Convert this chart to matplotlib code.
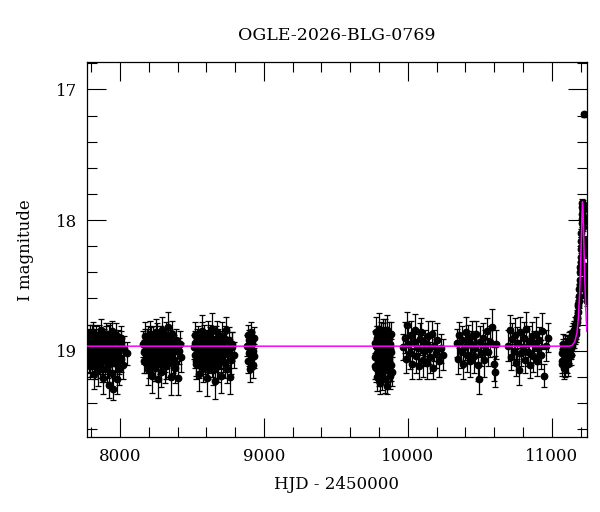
import matplotlib
matplotlib.use('Agg')
import matplotlib.pyplot as plt
from matplotlib.ticker import MultipleLocator
import numpy as np

# OGLE photometry, lists per observing season
s1_t = [7778, 7783, 7789, 7794, 7800, 7806, 7811, 7817, 7823, 7828, 7834, 7840, 7845, 7851, 7857,
        7862, 7868, 7874, 7879, 7885, 7891, 7896, 7902, 7908, 7913, 7919, 7925, 7930, 7936, 7942,
        7947, 7953, 7959, 7964, 7970, 7976, 7981, 7987, 7993, 7998, 8004, 8010, 8018, 8030, 8047]
s1_m = [18.93, 19.05, 18.88, 19.12, 18.97, 19.02, 18.86, 19.18, 18.95, 19.08, 18.91, 19.01, 19.15, 18.89, 18.99,
        19.10, 18.84, 19.04, 18.96, 19.21, 18.92, 19.06, 18.87, 19.00, 19.13, 18.94, 19.26, 18.90, 19.03, 19.17,
        18.85, 19.29, 18.98, 19.09, 18.88, 19.22, 19.01, 18.93, 19.14, 18.97, 19.06, 18.90, 19.11, 18.99, 19.02]
s1_e = [0.09, 0.11, 0.08, 0.10, 0.09, 0.12, 0.08, 0.11, 0.09, 0.10, 0.08, 0.09, 0.12, 0.09, 0.10,
        0.11, 0.08, 0.09, 0.10, 0.12, 0.09, 0.10, 0.08, 0.09, 0.11, 0.09, 0.10, 0.11, 0.09, 0.12,
        0.08, 0.09, 0.13, 0.10, 0.09, 0.11, 0.10, 0.09, 0.12, 0.08, 0.10, 0.09, 0.11, 0.10, 0.09]
s1x_t = [7781, 7787, 7792, 7798, 7803, 7809, 7815, 7820, 7826, 7832, 7837, 7843, 7849, 7855, 7860,
         7866, 7872, 7877, 7883, 7889, 7894, 7900, 7906, 7911, 7917, 7923, 7928, 7934, 7940, 7950,
         7961, 7972, 7984, 7995, 8007]
s1x_m = [19.00, 18.92, 19.07, 18.95, 19.10, 18.90, 19.03, 18.97, 19.12, 18.89, 19.05, 18.94, 19.01, 19.09, 18.91,
         18.98, 19.14, 18.93, 19.04, 18.96, 19.08, 18.90, 19.02, 18.99, 19.11, 18.88, 19.06, 18.95, 19.00, 19.03,
         18.92, 19.07, 18.97, 19.10, 18.94]
s1x_e = [0.08, 0.09, 0.10, 0.08, 0.09, 0.10, 0.08, 0.09, 0.10, 0.08, 0.09, 0.08, 0.10, 0.09, 0.08,
         0.09, 0.10, 0.08, 0.09, 0.08, 0.10, 0.09, 0.08, 0.09, 0.10, 0.08, 0.09, 0.08, 0.10, 0.09,
         0.08, 0.09, 0.10, 0.08, 0.09]

s2_t = [8163, 8169, 8175, 8181, 8188, 8194, 8200, 8206, 8213, 8219, 8225, 8231, 8238, 8244, 8250,
        8256, 8263, 8269, 8275, 8281, 8288, 8294, 8300, 8306, 8313, 8319, 8325, 8331, 8338, 8344,
        8350, 8356, 8363, 8369, 8375, 8381, 8394, 8405, 8416, 8427]
s2_m = [18.95, 19.08, 18.89, 19.02, 18.93, 19.14, 18.98, 18.87, 19.05, 18.91, 19.19, 19.00, 18.94, 19.11, 18.86,
        19.03, 19.22, 18.97, 19.07, 18.90, 19.16, 18.84, 19.01, 18.96, 19.12, 18.88, 19.04, 18.82, 18.99, 19.09,
        18.93, 19.20, 18.87, 19.06, 18.97, 19.13, 19.00, 19.21, 18.95, 19.05]
s2_e = [0.10, 0.09, 0.11, 0.08, 0.10, 0.12, 0.09, 0.10, 0.11, 0.09, 0.13, 0.10, 0.09, 0.12, 0.10,
        0.09, 0.14, 0.10, 0.11, 0.09, 0.12, 0.10, 0.09, 0.11, 0.13, 0.10, 0.09, 0.12, 0.10, 0.11,
        0.09, 0.14, 0.10, 0.11, 0.09, 0.12, 0.10, 0.13, 0.10, 0.11]
s2x_t = [8166, 8172, 8178, 8184, 8191, 8197, 8203, 8210, 8216, 8222, 8228, 8235, 8241, 8247, 8253,
         8260, 8266, 8272, 8278, 8285, 8291, 8297, 8303, 8310, 8316, 8322, 8334, 8347, 8359, 8372,
         8388, 8410]
s2x_m = [19.01, 18.93, 19.09, 18.97, 19.04, 18.90, 19.11, 18.95, 19.02, 19.07, 18.92, 18.99, 19.13, 18.94, 19.06,
         18.89, 19.03, 18.96, 19.10, 18.91, 19.00, 19.08, 18.94, 19.05, 18.98, 19.12, 18.90, 19.03, 18.95, 19.08,
         18.92, 19.00]
s2x_e = [0.09, 0.10, 0.08, 0.09, 0.11, 0.09, 0.10, 0.08, 0.09, 0.10, 0.11, 0.09, 0.10, 0.08, 0.09,
         0.10, 0.09, 0.11, 0.08, 0.10, 0.09, 0.10, 0.08, 0.11, 0.09, 0.10, 0.09, 0.08, 0.10, 0.11,
         0.09, 0.10]

s3_t = [8515, 8521, 8528, 8534, 8541, 8547, 8554, 8560, 8567, 8573, 8580, 8586, 8593, 8599, 8606,
        8612, 8619, 8625, 8632, 8638, 8645, 8651, 8658, 8664, 8671, 8677, 8684, 8690, 8697, 8703,
        8710, 8716, 8723, 8729, 8736, 8742, 8749, 8755, 8762, 8770, 8780, 8791]
s3_m = [18.97, 18.88, 19.10, 19.02, 18.92, 19.18, 18.95, 19.06, 18.85, 19.00, 19.13, 18.90, 19.04, 18.96, 19.21,
        18.87, 19.08, 18.93, 19.01, 18.83, 19.15, 18.98, 19.23, 18.91, 19.05, 18.86, 19.12, 18.99, 18.94, 19.19,
        18.89, 19.03, 18.96, 19.09, 18.84, 19.14, 19.00, 18.92, 19.20, 19.07, 18.95, 19.03]
s3_e = [0.09, 0.10, 0.12, 0.09, 0.11, 0.13, 0.09, 0.10, 0.12, 0.09, 0.11, 0.10, 0.09, 0.12, 0.14,
        0.10, 0.09, 0.11, 0.10, 0.12, 0.11, 0.09, 0.14, 0.10, 0.11, 0.09, 0.12, 0.10, 0.09, 0.13,
        0.11, 0.10, 0.09, 0.12, 0.10, 0.11, 0.09, 0.10, 0.13, 0.11, 0.09, 0.10]
s3x_t = [8518, 8524, 8531, 8537, 8544, 8550, 8557, 8563, 8570, 8576, 8583, 8589, 8596, 8602, 8609,
         8615, 8622, 8628, 8635, 8641, 8648, 8654, 8661, 8667, 8674, 8680, 8693, 8706, 8719, 8732,
         8752, 8775]
s3x_m = [19.03, 18.94, 19.08, 18.91, 19.00, 19.11, 18.96, 19.05, 18.89, 19.02, 18.97, 19.09, 18.93, 19.06, 18.99,
         19.13, 18.90, 19.04, 18.95, 19.10, 18.92, 19.01, 19.07, 18.96, 19.12, 18.94, 19.04, 18.98, 19.08, 18.91,
         19.02, 18.97]
s3x_e = [0.10, 0.09, 0.11, 0.08, 0.09, 0.10, 0.09, 0.08, 0.11, 0.09, 0.10, 0.09, 0.08, 0.10, 0.11,
         0.09, 0.10, 0.08, 0.09, 0.10, 0.11, 0.09, 0.08, 0.10, 0.09, 0.11, 0.10, 0.09, 0.08, 0.10,
         0.09, 0.11]

s4_t = [8882, 8886, 8890, 8894, 8898, 8902, 8906, 8910, 8914, 8918, 8922, 8926, 8930, 8934]
s4_m = [18.96, 19.08, 18.88, 19.02, 18.92, 19.14, 18.98, 18.86, 19.05, 18.94, 19.11, 19.00, 18.90, 19.04]
s4_e = [0.08, 0.09, 0.08, 0.10, 0.08, 0.10, 0.09, 0.08, 0.09, 0.08, 0.10, 0.09, 0.08, 0.09]

s5_t = [9772, 9775, 9779, 9782, 9786, 9789, 9793, 9796, 9800, 9803, 9807, 9810, 9814, 9817, 9821,
        9824, 9828, 9831, 9835, 9838, 9842, 9845, 9849, 9852, 9856, 9859, 9863, 9866, 9870, 9873,
        9877, 9880, 9883, 9885, 9887]
s5_m = [18.94, 19.12, 18.86, 19.03, 19.20, 18.91, 19.07, 18.83, 19.15, 18.98, 19.25, 18.89, 19.05, 18.95, 19.18,
        18.85, 19.10, 19.00, 18.92, 19.22, 18.88, 19.08, 18.96, 19.27, 18.84, 19.02, 19.14, 18.90, 19.06, 18.97,
        19.19, 18.87, 19.11, 19.01, 19.16]
s5_e = [0.09, 0.10, 0.12, 0.09, 0.11, 0.10, 0.09, 0.12, 0.10, 0.09, 0.08, 0.11, 0.09, 0.10, 0.12,
        0.09, 0.10, 0.11, 0.09, 0.10, 0.12, 0.09, 0.10, 0.06, 0.11, 0.09, 0.10, 0.12, 0.09, 0.11,
        0.10, 0.09, 0.12, 0.10, 0.11]
s5x_t = [9773, 9777, 9780, 9784, 9788, 9791, 9795, 9798, 9802, 9805, 9809, 9812, 9816, 9819, 9823,
         9826, 9830, 9833, 9837, 9840, 9844, 9851, 9858, 9865, 9875]
s5x_m = [19.05, 18.96, 19.13, 18.90, 19.02, 19.09, 18.94, 19.17, 18.99, 19.06, 18.92, 19.11, 19.00, 18.95, 19.08,
         18.88, 19.14, 19.03, 18.97, 19.10, 18.93, 19.05, 18.99, 19.12, 18.95]
s5x_e = [0.09, 0.10, 0.11, 0.09, 0.10, 0.11, 0.09, 0.10, 0.12, 0.09, 0.10, 0.11, 0.09, 0.10, 0.11,
         0.09, 0.10, 0.12, 0.09, 0.10, 0.11, 0.09, 0.10, 0.11, 0.09]

s6_t = [9968, 9977, 9986, 9995, 10004, 10013, 10022, 10031, 10040, 10049, 10058, 10067, 10076, 10085, 10094,
        10103, 10112, 10121, 10130, 10139, 10148, 10157, 10166, 10175, 10184, 10193, 10202, 10213, 10228, 10243]
s6_m = [18.97, 18.90, 19.06, 18.80, 18.95, 19.02, 18.88, 19.10, 18.93, 18.84, 19.04, 18.98, 19.12, 18.91, 18.86,
        19.07, 19.00, 18.94, 19.09, 18.89, 18.99, 19.05, 18.87, 19.13, 18.96, 19.02, 18.92, 19.08, 18.98, 19.03]
s6_e = [0.10, 0.12, 0.11, 0.10, 0.13, 0.12, 0.11, 0.12, 0.10, 0.12, 0.13, 0.11, 0.10, 0.12, 0.11,
        0.13, 0.12, 0.10, 0.13, 0.12, 0.11, 0.12, 0.10, 0.09, 0.12, 0.11, 0.13, 0.12, 0.11, 0.12]

s7_t = [10340, 10349, 10358, 10367, 10376, 10385, 10394, 10403, 10412, 10421, 10430, 10439, 10448, 10457, 10466,
        10475, 10484, 10493, 10502, 10511, 10520, 10529, 10538, 10547, 10556, 10570, 10585, 10596, 10605, 10614]
s7_m = [18.94, 19.06, 18.88, 19.00, 18.92, 19.10, 18.97, 18.86, 19.03, 18.91, 19.08, 18.95, 18.89, 19.04, 18.98,
        18.87, 19.11, 19.22, 18.93, 19.02, 18.90, 19.07, 18.96, 18.85, 19.01, 18.93, 18.82, 19.10, 19.16, 18.95]
s7_e = [0.11, 0.12, 0.10, 0.13, 0.11, 0.12, 0.10, 0.12, 0.13, 0.11, 0.12, 0.10, 0.12, 0.13, 0.11,
        0.10, 0.12, 0.11, 0.12, 0.10, 0.11, 0.13, 0.12, 0.10, 0.11, 0.12, 0.14, 0.13, 0.12, 0.11]

s8_t = [10698, 10707, 10716, 10725, 10734, 10743, 10752, 10761, 10770, 10779, 10788, 10797, 10806, 10815, 10824,
        10833, 10842, 10851, 10860, 10869, 10878, 10887, 10896, 10905, 10914, 10923, 10932, 10945, 10958, 10972]
s8_m = [18.96, 18.84, 19.05, 18.91, 19.00, 18.88, 19.09, 18.94, 19.15, 18.86, 19.02, 18.97, 18.90, 19.07, 18.83,
        19.01, 18.93, 19.11, 18.89, 19.04, 18.95, 18.87, 19.08, 18.98, 18.92, 19.03, 18.85, 19.19, 18.96, 18.90]
s8_e = [0.12, 0.11, 0.10, 0.12, 0.11, 0.13, 0.10, 0.12, 0.11, 0.12, 0.10, 0.11, 0.12, 0.10, 0.13,
        0.11, 0.12, 0.10, 0.11, 0.12, 0.10, 0.13, 0.11, 0.12, 0.10, 0.11, 0.14, 0.09, 0.12, 0.11]

# last season, with the event
s9_t = [11068, 11074, 11080, 11086, 11092, 11098, 11104, 11110, 11116, 11122, 11128, 11134, 11140, 11146, 11152,
        11158, 11164, 11170, 11175, 11180, 11185, 11189, 11193, 11197, 11200, 11203, 11206, 11208, 11210, 11212,
        11214, 11216, 11218, 11220, 11223, 11226, 11229, 11232, 11235, 11238, 11241, 11224]
s9_m = [19.02, 19.10, 18.95, 19.06, 19.12, 18.98, 19.08, 19.00, 18.93, 19.04, 18.92, 18.98, 18.88, 18.93, 18.84,
        18.89, 18.80, 18.85, 18.74, 18.70, 18.64, 18.58, 18.50, 18.40, 18.32, 18.22, 18.10, 18.02, 17.95, 17.90,
        17.88, 17.92, 17.98, 18.05, 18.15, 18.26, 18.36, 18.45, 18.52, 18.58, 18.62, 17.19]
s9_e = [0.08, 0.09, 0.08, 0.09, 0.08, 0.08, 0.09, 0.08, 0.07, 0.08, 0.07, 0.08, 0.07, 0.07, 0.07,
        0.06, 0.06, 0.06, 0.05, 0.05, 0.05, 0.05, 0.04, 0.04, 0.04, 0.03, 0.03, 0.03, 0.03, 0.03,
        0.03, 0.03, 0.03, 0.03, 0.03, 0.03, 0.03, 0.04, 0.04, 0.04, 0.04, 0.02]
s9x_t = [11071, 11077, 11083, 11089, 11095, 11101, 11107, 11113, 11119, 11125, 11131, 11137, 11143, 11149, 11155,
         11161, 11167, 11172, 11178, 11183, 11187, 11191, 11195, 11199, 11202, 11205, 11209, 11213, 11217, 11221,
         11225, 11230, 11236, 11240]
s9x_m = [19.08, 18.99, 19.13, 19.02, 18.96, 19.07, 18.97, 19.10, 19.01, 18.95, 19.03, 18.91, 18.96, 18.86, 18.92,
         18.83, 18.87, 18.78, 18.76, 18.66, 18.62, 18.53, 18.46, 18.36, 18.28, 18.16, 17.99, 17.87, 17.90, 18.00,
         18.20, 18.40, 18.50, 18.56]
s9x_e = [0.09, 0.08, 0.09, 0.08, 0.08, 0.09, 0.08, 0.09, 0.08, 0.07, 0.08, 0.07, 0.07, 0.07, 0.06,
         0.06, 0.06, 0.05, 0.05, 0.05, 0.05, 0.04, 0.04, 0.04, 0.04, 0.03, 0.03, 0.03, 0.03, 0.03,
         0.03, 0.04, 0.04, 0.04]

# fitted model curve
model_t = [7771, 11120, 11140, 11160, 11175, 11185, 11193, 11200, 11205, 11209, 11213,
           11217, 11222, 11228, 11235, 11243]
model_m = [18.965, 18.965, 18.96, 18.93, 18.86, 18.74, 18.56, 18.35, 18.15, 17.98, 17.86,
           17.92, 18.15, 18.42, 18.65, 18.85]

seasons = [(s1_t, s1_m, s1_e), (s1x_t, s1x_m, s1x_e), (s2_t, s2_m, s2_e), (s2x_t, s2x_m, s2x_e),
           (s3_t, s3_m, s3_e), (s3x_t, s3x_m, s3x_e), (s4_t, s4_m, s4_e),
           (s5_t, s5_m, s5_e), (s5x_t, s5x_m, s5x_e), (s6_t, s6_m, s6_e),
           (s7_t, s7_m, s7_e), (s8_t, s8_m, s8_e), (s9_t, s9_m, s9_e), (s9x_t, s9x_m, s9x_e)]

plt.rcParams['font.family'] = 'DejaVu Serif'
plt.rcParams['font.size'] = 12

fig = plt.figure(figsize=(6, 5.12), dpi=100)
ax = fig.add_axes([0.145, 0.1465, 0.833, 0.7325])

for t, m, e in seasons:
    rows = list(zip(t, m, e))
    tt = np.array([r[0] for r in rows])
    mm = np.array([r[1] for r in rows])
    ee = np.array([r[2] for r in rows])
    ax.errorbar(tt, mm, yerr=ee, fmt='o', color='black', ms=4.6,
                ecolor='black', elinewidth=0.9, capsize=2.2, capthick=0.9, zorder=2)

ax.plot(model_t, model_m, '-', color='#ff00ff', lw=1.1, zorder=3)

ax.set_xlim(7771, 11243)
ax.set_ylim(19.66, 16.79)
ax.xaxis.set_major_locator(MultipleLocator(1000))
ax.xaxis.set_minor_locator(MultipleLocator(200))
ax.yaxis.set_major_locator(MultipleLocator(1))
ax.yaxis.set_minor_locator(MultipleLocator(0.2))
ax.tick_params(which='both', direction='in', top=True, right=True, width=0.8)
ax.tick_params(which='major', length=13.5)
ax.tick_params(which='minor', length=7)
ax.tick_params(axis='x', pad=8)
ax.tick_params(axis='y', pad=7)
for s in ax.spines.values():
    s.set_linewidth(0.9)

ax.set_title('OGLE-2026-BLG-0769', pad=16, fontsize=12.5)
ax.set_xlabel('HJD - 2450000', labelpad=8)
fig.text(25 / 600, 1 - 250 / 512, 'I magnitude', rotation=90, ha='center', va='center')

plt.savefig('out.png', dpi=100)
